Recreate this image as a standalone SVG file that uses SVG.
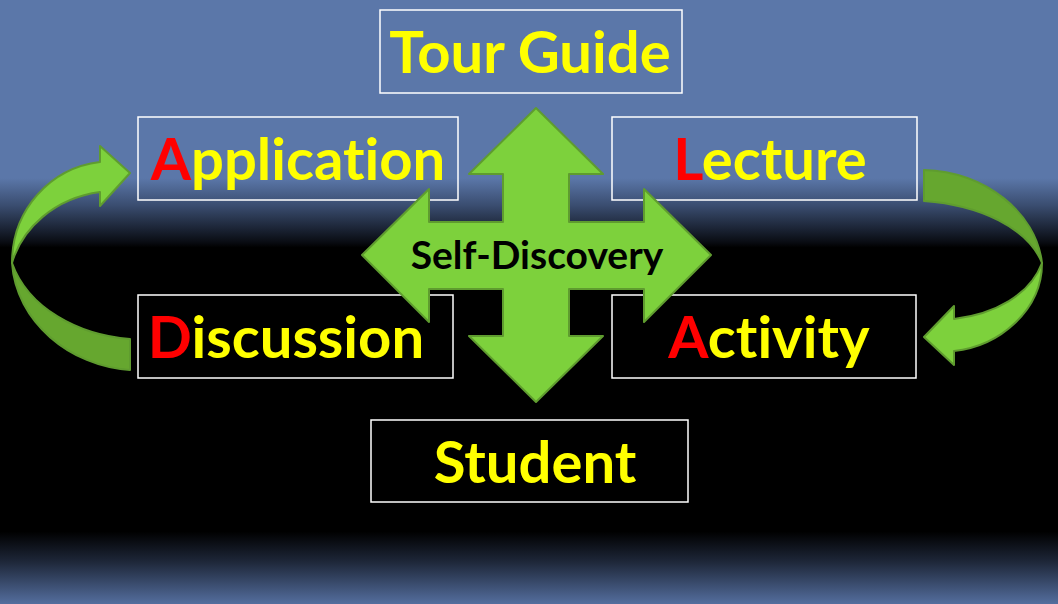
<svg xmlns="http://www.w3.org/2000/svg" width="1058" height="604" viewBox="0 0 1058 604">
<defs>
<linearGradient id="bg" x1="0" y1="0" x2="0" y2="604" gradientUnits="userSpaceOnUse">
<stop offset="0" stop-color="#5b77a9"/>
<stop offset="0.295" stop-color="#5b77a9"/>
<stop offset="0.34" stop-color="#3a4d70"/>
<stop offset="0.4" stop-color="#0a0d14"/>
<stop offset="0.41" stop-color="#000000"/>
<stop offset="0.88" stop-color="#000000"/>
<stop offset="0.93" stop-color="#1e2739"/>
<stop offset="1" stop-color="#546e9e"/>
</linearGradient>
</defs>
<style>
.box{fill:none;stroke:#ffffff;stroke-width:1.5}
.lbl{font-family:Lato,"Open Sans",sans-serif;font-weight:bold;font-size:58px;fill:#ffff00;text-anchor:middle;font-variant-ligatures:none}
.r{fill:#ff0000}
.light{fill:#7dd13c;stroke:#5f9c2f;stroke-width:2;stroke-linejoin:round}
.dark{fill:#66a72f;stroke:#5f9c2f;stroke-width:2;stroke-linejoin:round}
.center{font-family:Lato,"Open Sans",sans-serif;font-weight:bold;font-size:39px;fill:#000000;text-anchor:middle}
</style>
<rect x="0" y="0" width="1058" height="604" fill="url(#bg)"/>

<g id="connectors">
<g id="left-curved-arrow">
<path class="dark" d="M 12,263 C 16,322 70,366 130,370 L 130,339 C 78,335 28,308 12,263 Z"/>
<path class="light" d="M 12,263 C 12,210 50,168 100,162 L 100,146 L 130,173 L 100,206 L 100,192 C 55,198 22,228 12,263 Z"/>
</g>
<g id="right-curved-arrow">
<path class="dark" d="M 924,170 C 985,172 1036,212 1042,263 C 1028,228 980,205 924,201 Z"/>
<path class="light" d="M 1042,263 C 1042,310 1000,346 954,351 L 954,365 L 924,337 L 954,306 L 954,319 C 995,314 1030,295 1042,263 Z"/>
</g>
</g>

<g id="node-tour-guide">
<rect class="box" x="380" y="10" width="302" height="83"/>
<text class="lbl" x="530" y="73">Tour Guide</text>
</g>
<g id="node-application">
<rect class="box" x="138" y="117" width="320" height="83"/>
<text class="lbl" x="298" y="180"><tspan class="r">A</tspan>pplication</text>
</g>
<g id="node-lecture">
<rect class="box" x="612" y="117" width="305" height="83"/>
<text class="lbl" x="770" y="180"><tspan class="r">L</tspan>ecture</text>
</g>
<g id="node-discussion">
<rect class="box" x="138" y="295" width="315" height="83"/>
<text class="lbl" x="286" y="358"><tspan class="r">D</tspan>iscussion</text>
</g>
<g id="node-activity">
<rect class="box" x="612" y="295" width="304" height="83"/>
<text class="lbl" x="769" y="358"><tspan class="r">A</tspan>ctivity</text>
</g>
<g id="node-student">
<rect class="box" x="371" y="420" width="317" height="82"/>
<text class="lbl" x="535" y="483">Student</text>
</g>

<g id="node-self-discovery">
<path class="light" d="M 536,108 L 603,174 L 569,174 L 569,222 L 644,222 L 644,189 L 711,255 L 644,322 L 644,289 L 569,289 L 569,336 L 603,336 L 536,402 L 469,336 L 503,336 L 503,289 L 429,289 L 429,322 L 362,255 L 429,189 L 429,222 L 503,222 L 503,174 L 469,174 Z"/>
<text class="center" x="537" y="269">Self-Discovery</text>
</g>
</svg>
